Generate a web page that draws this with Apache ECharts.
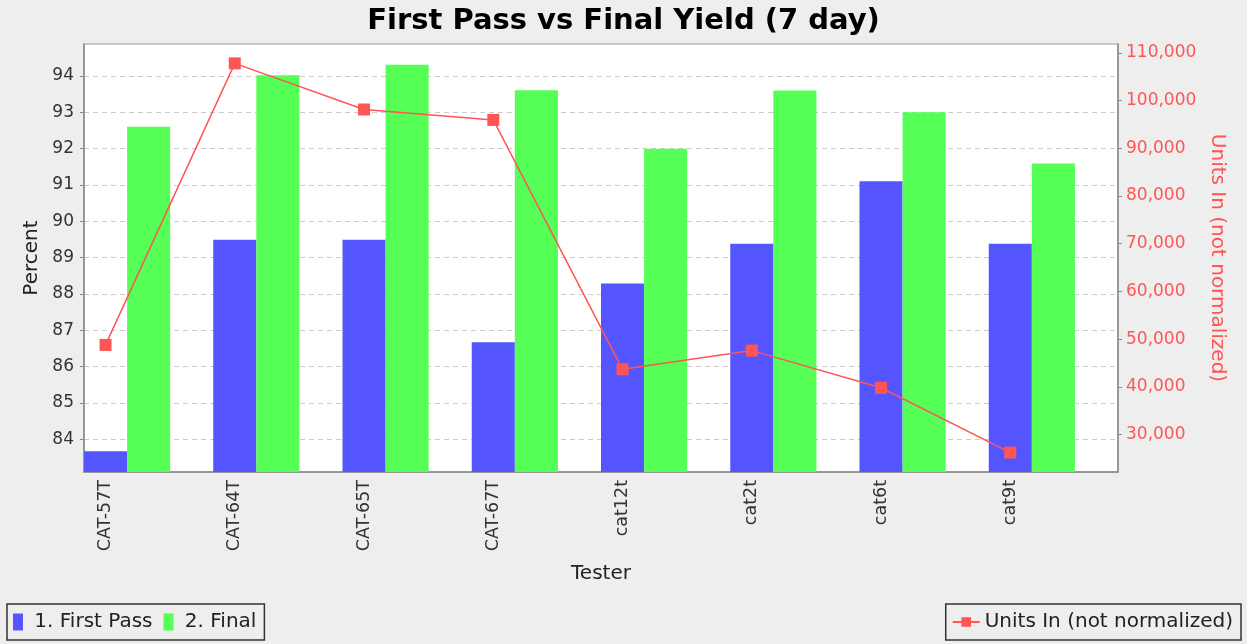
<!DOCTYPE html>
<html>
<head>
<meta charset="utf-8">
<script src="https://cdn.jsdelivr.net/npm/echarts@6/dist/echarts.min.js"></script>
<style>
  html, body { margin: 0; padding: 0; background: #eeeeee; }
  #chart { width: 1247px; height: 644px; }
</style>
</head>
<body>
<div id="chart"></div>
<script>
// testers and values
var testers = ['CAT-57T', 'CAT-64T', 'CAT-65T', 'CAT-67T', 'cat12t', 'cat2t', 'cat6t', 'cat9t'];
var firstPass = [83.67, 89.49, 89.49, 86.67, 88.29, 89.38, 91.10, 89.38];
var finalYield = [92.60, 94.02, 94.31, 93.61, 92.00, 93.60, 93.00, 91.59];
var unitsIn = [48780, 107830, 98160, 95970, 43670, 47590, 39800, 26210];
var percentTicks = [84, 85, 86, 87, 88, 89, 90, 91, 92, 93, 94];
var unitTicks = [30000, 40000, 50000, 60000, 70000, 80000, 90000, 100000, 110000];

// each tester gets three slots: first pass, final, empty
var slots = [], blueData = [], greenData = [], lineData = [];
testers.forEach(function (t, i) {
    slots.push(t, '', '');
    blueData.push(firstPass[i], null, null);
    greenData.push(null, finalYield[i], null);
    lineData.push(unitsIn[i], null, null);
});

var FONT = 'DejaVu Sans';
var myChart = echarts.init(document.getElementById('chart'));
var option = {
    backgroundColor: '#eeeeee',
    animation: false,
    title: {
        text: 'First Pass vs Final Yield (7 day)',
        left: 'center',
        top: 2,
        textStyle: { fontFamily: FONT, fontSize: 29, fontWeight: 'bold', color: '#000' }
    },
    grid: {
        left: 84, right: 129, top: 44, bottom: 172,
        show: true,
        backgroundColor: '#ffffff',
        borderColor: '#999999',
        borderWidth: 1
    },
    legend: [
        {
            data: ['1. First Pass', '2. Final'],
            left: 7, bottom: 4,
            icon: 'rect',
            itemWidth: 10, itemHeight: 17, itemGap: 11,
            padding: [8, 8, 8, 6],
            borderColor: '#333', borderWidth: 1.5,
            formatter: function (name) { return ' ' + name; },
            textStyle: { fontFamily: FONT, fontSize: 20, color: '#222' }
        },
        {
            data: ['Units In (not normalized)'],
            right: 6, bottom: 4,
            itemWidth: 27, itemHeight: 12,
            padding: [8, 8, 8, 6],
            borderColor: '#333', borderWidth: 1.5,
            textStyle: { fontFamily: FONT, fontSize: 20, color: '#222' }
        }
    ],
    xAxis: {
        type: 'category',
        data: slots,
        name: 'Tester',
        nameLocation: 'middle',
        nameGap: 92,
        nameTextStyle: { fontFamily: FONT, fontSize: 20, color: '#222' },
        axisLine: { lineStyle: { color: '#888', width: 1.5 } },
        axisTick: { alignWithLabel: true, interval: 0, length: 4, lineStyle: { color: '#888' } },
        axisLabel: { interval: 0, rotate: 90, margin: 8, fontFamily: FONT, fontSize: 17.5, color: '#333' }
    },
    yAxis: [
        {
            type: 'value',
            min: 83.1, max: 94.88,
            name: 'Percent',
            nameLocation: 'middle',
            nameGap: 42,
            nameTextStyle: { fontFamily: FONT, fontSize: 20, color: '#222' },
            axisLine: { show: true, lineStyle: { color: '#888', width: 1.5 } },
            axisTick: { show: true, length: 4, customValues: percentTicks, lineStyle: { color: '#888' } },
            axisLabel: { customValues: percentTicks, margin: 10, fontFamily: FONT, fontSize: 17, color: '#333' },
            splitLine: { show: true, lineStyle: { color: '#cccccc', type: [5, 4] } }
        },
        {
            type: 'value',
            min: 22130, max: 111890,
            position: 'right',
            name: 'Units In (not normalized)',
            nameLocation: 'middle',
            nameRotate: -90,
            nameGap: 88,
            nameTextStyle: { fontFamily: FONT, fontSize: 20, color: '#ff5555' },
            axisLine: { show: true, lineStyle: { color: '#888', width: 1.5 } },
            axisTick: { show: true, length: 4, customValues: unitTicks, lineStyle: { color: '#888' } },
            axisLabel: {
                customValues: unitTicks, margin: 8, fontFamily: FONT, fontSize: 17, color: '#ff5555',
                formatter: function (v) { return v.toLocaleString('en-US'); }
            },
            splitLine: { show: false }
        }
    ],
    series: [
        {
            name: '1. First Pass',
            type: 'bar',
            data: blueData,
            barGap: '-100%',
            barCategoryGap: '0%',
            itemStyle: { color: '#5555ff' }
        },
        {
            name: '2. Final',
            type: 'bar',
            data: greenData,
            barGap: '-100%',
            barCategoryGap: '0%',
            itemStyle: { color: '#55ff55' }
        },
        {
            name: 'Units In (not normalized)',
            type: 'line',
            yAxisIndex: 1,
            data: lineData,
            connectNulls: true,
            symbol: 'rect',
            symbolSize: 12,
            itemStyle: { color: '#ff5555' },
            lineStyle: { color: '#ff5555', width: 1.5 }
        }
    ]
};
myChart.setOption(option);
</script>
</body>
</html>
